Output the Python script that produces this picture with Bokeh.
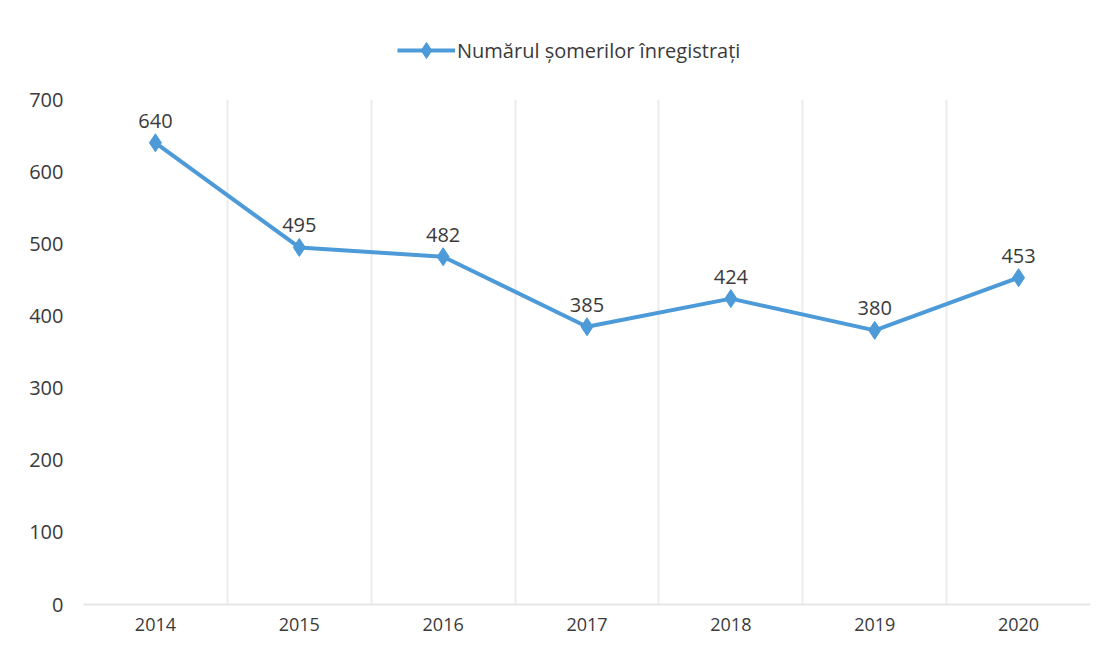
from bokeh.plotting import figure
from bokeh.layouts import column
from bokeh.models import ColumnDataSource, FixedTicker, Legend, LegendItem, LabelSet, Range1d
from bokeh.core.properties import value
from bokeh.embed import file_html
from bokeh.resources import INLINE

years = ["2014", "2015", "2016", "2017", "2018", "2019", "2020"]
values = [640, 495, 482, 385, 424, 380, 453]
y_ticks = [0, 100, 200, 300, 400, 500, 600, 700]
series_name = "Numărul șomerilor înregistrați"

FONT = "Open Sans"
TXT = "#3a3a3a"
BLUE = "#4C9AD8"
TOP_H = 85

xs = list(range(len(years)))
src = ColumnDataSource(dict(x=xs, y=values, lbl=[str(v) for v in values]))

# --- legend strip on top ---
top = figure(width=1091, height=TOP_H, output_backend="svg", toolbar_location=None,
             x_range=Range1d(0, 1), y_range=Range1d(0, 1),
             min_border_left=0, min_border_right=0, min_border_top=0, min_border_bottom=0)
top.axis.visible = False
top.grid.visible = False
top.outline_line_color = None
# proxy renderers for the legend key (their single point lies outside the visible range)
proxy = ColumnDataSource(dict(x=[5], y=[5]))
lg_line = top.line("x", "y", source=proxy, line_color=BLUE, line_width=4)
lg_pts = top.scatter("x", "y", source=proxy, marker="diamond", size=16, fill_color=BLUE, line_color=BLUE)
legend = Legend(items=[LegendItem(label=series_name, renderers=[lg_line, lg_pts])],
                orientation="horizontal", location=(314, 15),
                label_text_font=FONT, label_text_font_size="20px", label_text_color=TXT,
                border_line_color=None, background_fill_alpha=0,
                glyph_width=58, glyph_height=40, label_standoff=2, margin=0, padding=4)
top.add_layout(legend)

# --- main chart ---
p = figure(width=1091, height=637 - TOP_H, output_backend="svg", toolbar_location=None,
           x_range=Range1d(-0.5, len(years) - 0.5), y_range=Range1d(0, 700),
           min_border_left=83, min_border_right=1, min_border_bottom=33, min_border_top=14)
p.outline_line_color = None
p.background_fill_color = "white"

p.line("x", "y", source=src, line_color=BLUE, line_width=4)
p.scatter("x", "y", source=src, marker="diamond", size=18, fill_color=BLUE, line_color=BLUE)

labels = LabelSet(x="x", y="y", text="lbl", source=src, y_offset=15, text_align="center",
                  text_baseline="bottom", text_font=value(FONT), text_font_size="20px", text_color=TXT)
p.add_layout(labels)

p.yaxis.ticker = FixedTicker(ticks=y_ticks)
p.yaxis.axis_line_color = None
p.yaxis.major_tick_line_color = None
p.yaxis.minor_tick_line_color = None
p.yaxis.major_label_text_font = FONT
p.yaxis.major_label_text_font_size = "20px"
p.yaxis.major_label_text_color = TXT
p.yaxis.major_label_standoff = 14

p.xaxis.ticker = FixedTicker(ticks=xs)
p.xaxis.major_label_overrides = {i: y for i, y in enumerate(years)}
p.xaxis.axis_line_color = "#e6e6e6"
p.xaxis.axis_line_width = 2
p.xaxis.major_tick_line_color = None
p.xaxis.minor_tick_line_color = None
p.xaxis.major_label_text_font = FONT
p.xaxis.major_label_text_font_size = "18px"
p.xaxis.major_label_text_color = TXT
p.xaxis.major_label_standoff = 7

p.ygrid.grid_line_color = None
p.xgrid.ticker = FixedTicker(ticks=[i - 0.5 for i in range(len(years) + 1)])
p.xgrid.grid_line_color = "#ececec"
p.xgrid.grid_line_width = 2

layout = column(top, p, spacing=0)
open("out.html", "w").write(file_html(layout, INLINE))
